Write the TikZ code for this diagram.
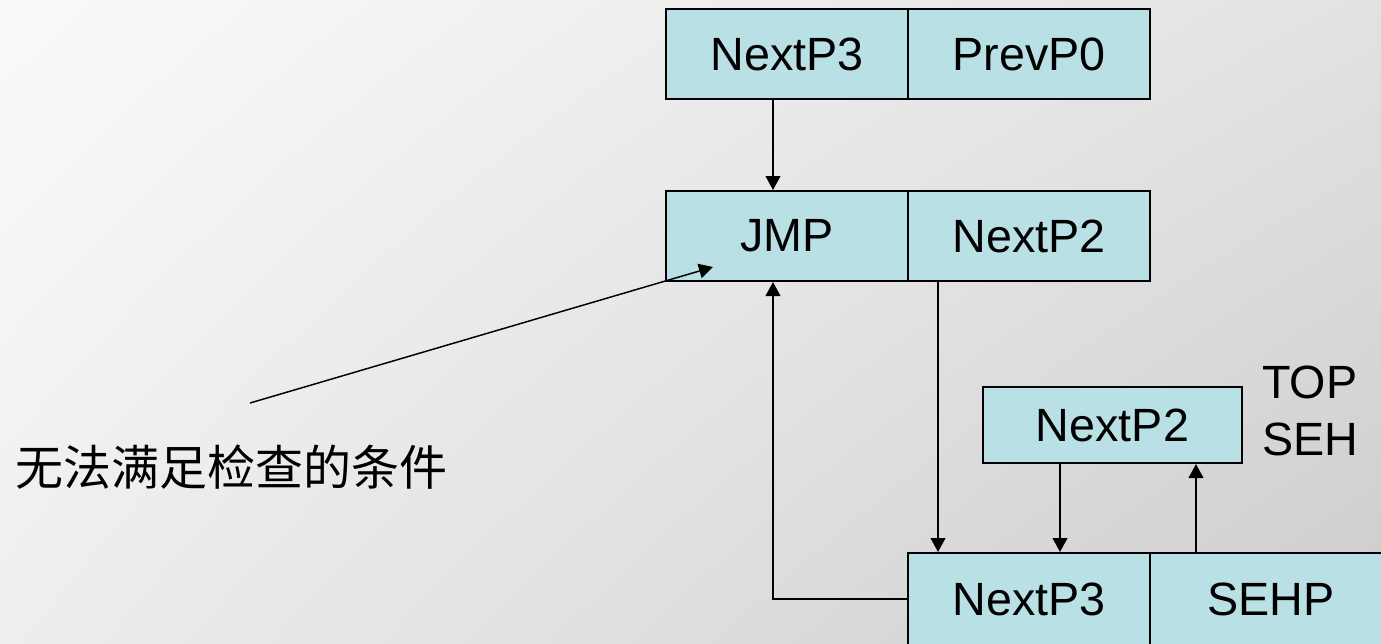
\documentclass[tikz,border=0pt]{standalone}
\usepackage{fontspec}
\setmainfont{Liberation Sans}
\newfontfamily\cjk{Noto Sans CJK SC}
\usetikzlibrary{arrows.meta,shadings}
\definecolor{cellfill}{RGB}{185,224,228}
\definecolor{bgul}{RGB}{250,250,250}
\definecolor{bgur}{RGB}{226,226,226}
\definecolor{bgll}{RGB}{238,238,238}
\definecolor{bglr}{RGB}{204,204,204}
\begin{document}
\begin{tikzpicture}[x=0.75pt,y=-0.75pt,
  cell/.style={draw=black,fill=cellfill,line width=1.5pt,minimum width=181.5pt,minimum height=67.5pt,inner sep=0pt,font=\fontsize{35}{42}\selectfont},
  conn/.style={line width=1.5pt,-{Triangle[length=10.5pt,width=11pt]}},
  thin conn/.style={line width=1.1pt,-{Triangle[length=10.5pt,width=11pt]}},
  label/.style={inner sep=0pt,font=\fontsize{35}{42.75}\selectfont}]
\useasboundingbox (0,0) rectangle (1381,643);
\shade[upper left=bgul,upper right=bgur,lower left=bgll,lower right=bglr] (0,0) rectangle (1381,643);
% top row
\node[cell] (a1) at (787,54) {NextP3};
\node[cell] (a2) at (1029,54) {PrevP0};
% second row
\node[cell] (b1) at (787,236) {JMP};
\node[cell] (b2) at (1029,236) {NextP2};
% bottom row
\node[cell,minimum height=69pt] (c1) at (1029,599) {NextP3};
\node[cell,minimum height=69pt] (c2) at (1271,599) {SEHP};
% small box
\node[cell,minimum width=194.25pt,minimum height=57pt] (s) at (1112.5,425) {NextP2};
% label TOP SEH
\node[label,anchor=west,align=left] (topseh) at (1262,410.5) {TOP\\SEH};
% chinese label
\node[inner sep=0pt,anchor=west,font=\cjk\fontsize{36}{44}\selectfont] (cond) at (15,467) {无法满足检查的条件};
\coordinate (p0) at (250,403);
\coordinate (p1) at (713,267);
% connectors
\draw[conn] ([xshift=-10.5pt]a1.south) -- ([xshift=-10.5pt]b1.north);
\draw[conn] ([xshift=-68.25pt]b2.south) -- ([xshift=-68.25pt]c1.north);
\draw[conn] ([xshift=-39.375pt]s.south) -- ([xshift=-39.375pt]s.south |- c1.north);
\draw[conn] ([xshift=-56.25pt]c2.north) -- ([xshift=-56.25pt]c2.north |- s.south);
\draw[conn] (c1.west) -| ([xshift=-10.5pt]b1.south);
\draw[thin conn] (p0) -- (p1);
\end{tikzpicture}
\end{document}
